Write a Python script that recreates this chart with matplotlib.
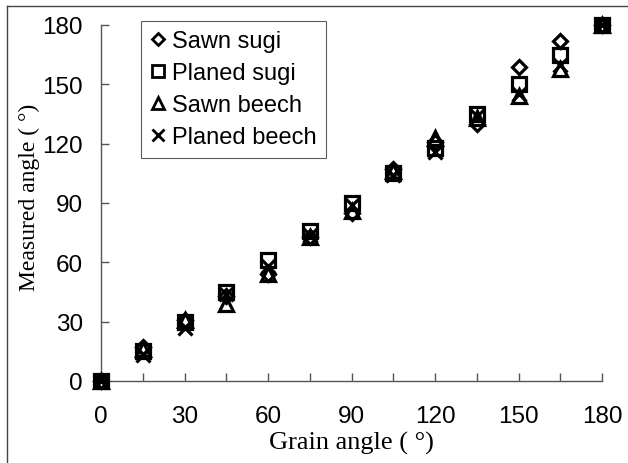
import matplotlib
matplotlib.use("Agg")
import matplotlib.pyplot as plt
from matplotlib.lines import Line2D

grain = [0, 15, 30, 45, 60, 75, 90, 105, 120, 135, 150, 165, 180]
sawn_sugi = [0, 17, 31, 43, 54, 73, 85, 107, 121, 130, 159, 172, 180]
planed_sugi = [0, 15, 30, 45, 61, 76, 90, 105, 118, 135, 150, 165, 180]
sawn_beech = [0, 16, 31, 39, 54, 73, 86, 106, 123, 133, 144, 158, 180]
planed_beech = [0, 13, 27, 44, 58, 74, 89, 104, 116, 134, 145, 160, 180]

series = [
    ("Sawn sugi", sawn_sugi, "D", 7.5),
    ("Planed sugi", planed_sugi, "s", 10),
    ("Sawn beech", sawn_beech, "^", 10),
    ("Planed beech", planed_beech, "x", 10),
]

fig = plt.figure(figsize=(6.28, 4.64), dpi=100)
ax = fig.add_axes([101/628, 1-382/464, 501/628, (382-26)/464])

for name, vals, m, ms in series:
    ax.plot(grain, vals, linestyle="none", marker=m, markersize=ms,
            markerfacecolor="none", markeredgecolor="black",
            markeredgewidth=2.3, color="black", label=name, clip_on=False, zorder=3)

ax.set_xlim(0, 180)
ax.set_ylim(0, 180)
ax.set_xticks(range(0, 181, 15))
ax.set_xticklabels([str(v) if v % 30 == 0 else "" for v in range(0, 181, 15)])
ax.set_yticks(range(0, 181, 30))
for s in ["top", "right"]:
    ax.spines[s].set_visible(False)
for s in ["left", "bottom"]:
    ax.spines[s].set_color("#555555")
    ax.spines[s].set_linewidth(1.0)
ax.tick_params(direction="in", length=6, width=1.0, color="#555555",
               labelsize=17.5, labelcolor="black")
ax.tick_params(axis="x", pad=17)
ax.tick_params(axis="y", pad=13)
for lab in ax.get_xticklabels() + ax.get_yticklabels():
    lab.set_fontfamily("Liberation Sans")

ax.set_xlabel("Grain angle ( °)", fontfamily="Liberation Serif", fontsize=19,
              color="black", va="baseline")
ax.xaxis.set_label_coords(0.5, (382-450)/356)
ax.set_ylabel("Measured angle ( °)", fontfamily="Liberation Serif", fontsize=17,
              color="black")
ax.yaxis.set_label_coords((40-101)/501, (382-197)/356)

handles = [Line2D([], [], linestyle="none", marker=m, markersize=ms * 0.85,
                  markerfacecolor="none", markeredgecolor="black",
                  markeredgewidth=2.0) for _, _, m, ms in series]
leg = ax.legend(handles, [s[0] for s in series], loc="upper left",
                bbox_to_anchor=((141-101)/501, (382-22)/356),
                prop={"family": "Liberation Sans", "size": 17},
                frameon=True, fancybox=False, edgecolor="#333333",
                handlelength=0.6, handletextpad=0.3, labelspacing=0.42,
                borderpad=0.4, borderaxespad=0)
leg.get_frame().set_linewidth(0.8)

# outer frame lines (top and left)
fig.add_artist(Line2D([7/628, 1], [1-7/464, 1-7/464], color="#444444", lw=1.0,
                      transform=fig.transFigure))
fig.add_artist(Line2D([7/628, 7/628], [0, 1-7/464], color="#444444", lw=1.0,
                      transform=fig.transFigure))

fig.savefig("out.png", dpi=100)
